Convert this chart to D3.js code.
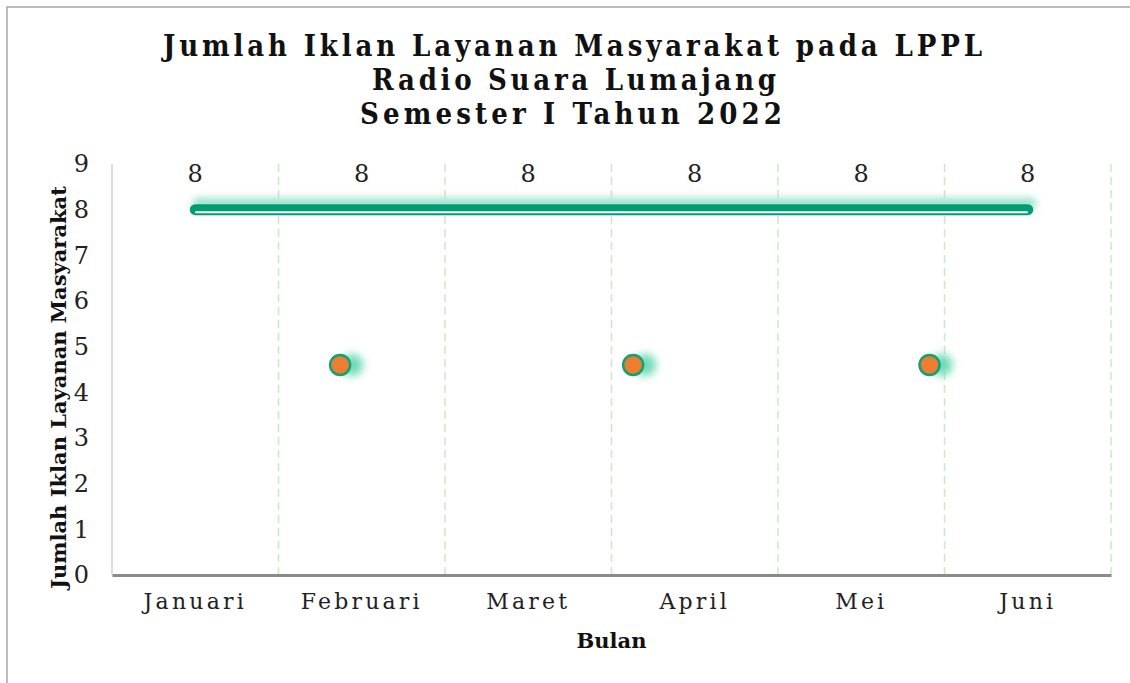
<!DOCTYPE html>
<html>
<head>
<meta charset="utf-8">
<script src="https://cdn.jsdelivr.net/npm/d3@7"></script>
<style>
  body { margin: 0; background: #fff; }
  svg { display: block; }
</style>
</head>
<body>
<div id="chart"></div>
<script>
// data
const months = ["Januari", "Februari", "Maret", "April", "Mei", "Juni"];
const iklanValues = [8, 8, 8, 8, 8, 8];
// extra dots (position as month index, value)
const dotPos = [0.87, 2.63, 4.41];
const dotValues = [4.6, 4.6, 4.6];
const yTicks = [0, 1, 2, 3, 4, 5, 6, 7, 8, 9];
const titleLines = ["Jumlah Iklan Layanan Masyarakat pada LPPL", "Radio Suara Lumajang", "Semester I Tahun 2022"];

const width = 1130, height = 683;
const margin = { top: 164, right: 19, bottom: 108, left: 112 };

const svg = d3.select("#chart").append("svg")
    .attr("width", width)
    .attr("height", height);

// glow filters (user space so the flat line still gets a region)
const defs = svg.append("defs");
const lineGlow = defs.append("filter").attr("id", "lineGlow")
    .attr("filterUnits", "userSpaceOnUse")
    .attr("x", 0).attr("y", 0).attr("width", width).attr("height", height);
lineGlow.append("feGaussianBlur").attr("stdDeviation", 3.5);

const dotGlow = defs.append("filter").attr("id", "dotGlow")
    .attr("filterUnits", "userSpaceOnUse")
    .attr("x", 0).attr("y", 0).attr("width", width).attr("height", height);
dotGlow.append("feGaussianBlur").attr("stdDeviation", 4);

// outer border (top + left only visible)
svg.append("path")
    .attr("d", `M7,${height} L7,7 L${width},7`)
    .attr("fill", "none")
    .attr("stroke", "#a6a6a6")
    .attr("stroke-width", 1.5);

const x = d3.scaleBand()
    .domain(months)
    .range([margin.left, width - margin.right])
    .padding(0);

const y = d3.scaleLinear()
    .domain([0, 9])
    .range([height - margin.bottom, margin.top]);

const xIdx = d3.scaleLinear()
    .domain([0, months.length - 1])
    .range([x(months[0]) + x.bandwidth() / 2, x(months[months.length - 1]) + x.bandwidth() / 2]);

// dashed vertical gridlines at category boundaries
svg.append("g")
    .selectAll("line")
    .data(months)
    .join("line")
    .attr("x1", d => x(d) + x.bandwidth())
    .attr("x2", d => x(d) + x.bandwidth())
    .attr("y1", y(9))
    .attr("y2", y(0))
    .attr("stroke", "#cfe6c0")
    .attr("stroke-width", 1.5)
    .attr("stroke-dasharray", "8,5");

// y axis line
svg.append("line")
    .attr("x1", margin.left).attr("x2", margin.left)
    .attr("y1", y(9)).attr("y2", y(0))
    .attr("stroke", "#d0d0d0")
    .attr("stroke-width", 1.5);

// y tick labels
const yAxis = d3.axisLeft(y).tickValues(yTicks).tickSize(0).tickPadding(23);
const yg = svg.append("g")
    .attr("transform", `translate(${margin.left},0)`)
    .call(yAxis);
yg.select(".domain").remove();
yg.selectAll("text")
    .attr("font-family", "'DejaVu Serif', serif")
    .attr("font-size", 24)
    .attr("fill", "#222");

// x axis
const xAxis = d3.axisBottom(x).tickSize(0).tickPadding(18);
const xg = svg.append("g")
    .attr("transform", `translate(0,${y(0)})`)
    .call(xAxis);
xg.select(".domain")
    .attr("stroke", "#8a8a8a")
    .attr("stroke-width", 3);
xg.selectAll("text")
    .attr("font-family", "'DejaVu Serif', serif")
    .attr("font-size", 22)
    .attr("letter-spacing", 3.2)
    .attr("fill", "#222");

// main line
const line = d3.line()
    .x((d, i) => xIdx(i))
    .y(d => y(d));

svg.append("path")
    .datum(iklanValues)
    .attr("d", line)
    .attr("transform", "translate(3,-6)")
    .attr("fill", "none")
    .attr("stroke", "#9fe4cd")
    .attr("stroke-width", 12)
    .attr("stroke-linecap", "round")
    .attr("filter", "url(#lineGlow)");

svg.append("path")
    .datum(iklanValues)
    .attr("d", line)
    .attr("fill", "none")
    .attr("stroke", "#009d72")
    .attr("stroke-width", 11)
    .attr("stroke-linecap", "round");

svg.append("path")
    .datum(iklanValues)
    .attr("d", line)
    .attr("transform", "translate(0,2.5)")
    .attr("fill", "none")
    .attr("stroke", "#ffffff")
    .attr("stroke-width", 2);

// data labels
svg.append("g")
    .selectAll("text")
    .data(iklanValues)
    .join("text")
    .attr("x", (d, i) => xIdx(i))
    .attr("y", d => y(d) - 28)
    .attr("text-anchor", "middle")
    .attr("font-family", "'DejaVu Serif', serif")
    .attr("font-size", 24)
    .attr("fill", "#222")
    .text(d => d);

// dots
const dots = dotPos.map((p, i) => ({ p: p, v: dotValues[i] }));

svg.append("g")
    .selectAll("circle")
    .data(dots)
    .join("circle")
    .attr("cx", d => xIdx(d.p) + 12)
    .attr("cy", d => y(d.v))
    .attr("r", 11)
    .attr("fill", "#6edab7")
    .attr("filter", "url(#dotGlow)");

svg.append("g")
    .selectAll("circle")
    .data(dots)
    .join("circle")
    .attr("cx", d => xIdx(d.p))
    .attr("cy", d => y(d.v))
    .attr("r", 10)
    .attr("fill", "#ed7d31")
    .attr("stroke", "#14a072")
    .attr("stroke-width", 2.5);

// title
const titleBounds = [[163, 982], [372, 776], [360, 782]];
svg.append("g")
    .selectAll("text")
    .data(titleLines)
    .join("text")
    .attr("x", (d, i) => titleBounds[i][0])
    .attr("y", (d, i) => 56 + i * 34)
    .attr("textLength", (d, i) => titleBounds[i][1] - titleBounds[i][0])
    .attr("lengthAdjust", "spacing")
    .attr("font-family", "'DejaVu Serif Condensed', 'DejaVu Serif', serif")
    .attr("font-weight", "bold")
    .attr("font-size", 29)
    .attr("fill", "#111")
    .text(d => d);

// axis titles
svg.append("text")
    .attr("x", (margin.left + width - margin.right) / 2)
    .attr("y", 648)
    .attr("text-anchor", "middle")
    .attr("font-family", "'DejaVu Serif', serif")
    .attr("font-weight", "bold")
    .attr("font-size", 21)
    .attr("fill", "#111")
    .text("Bulan");

svg.append("text")
    .attr("transform", `translate(66,${(175 + 600) / 2}) rotate(-90)`)
    .attr("text-anchor", "middle")
    .attr("font-family", "'DejaVu Serif', serif")
    .attr("font-weight", "bold")
    .attr("font-size", 21)
    .attr("fill", "#111")
    .text("Jumlah Iklan Layanan Masyarakat");
</script>
</body>
</html>
